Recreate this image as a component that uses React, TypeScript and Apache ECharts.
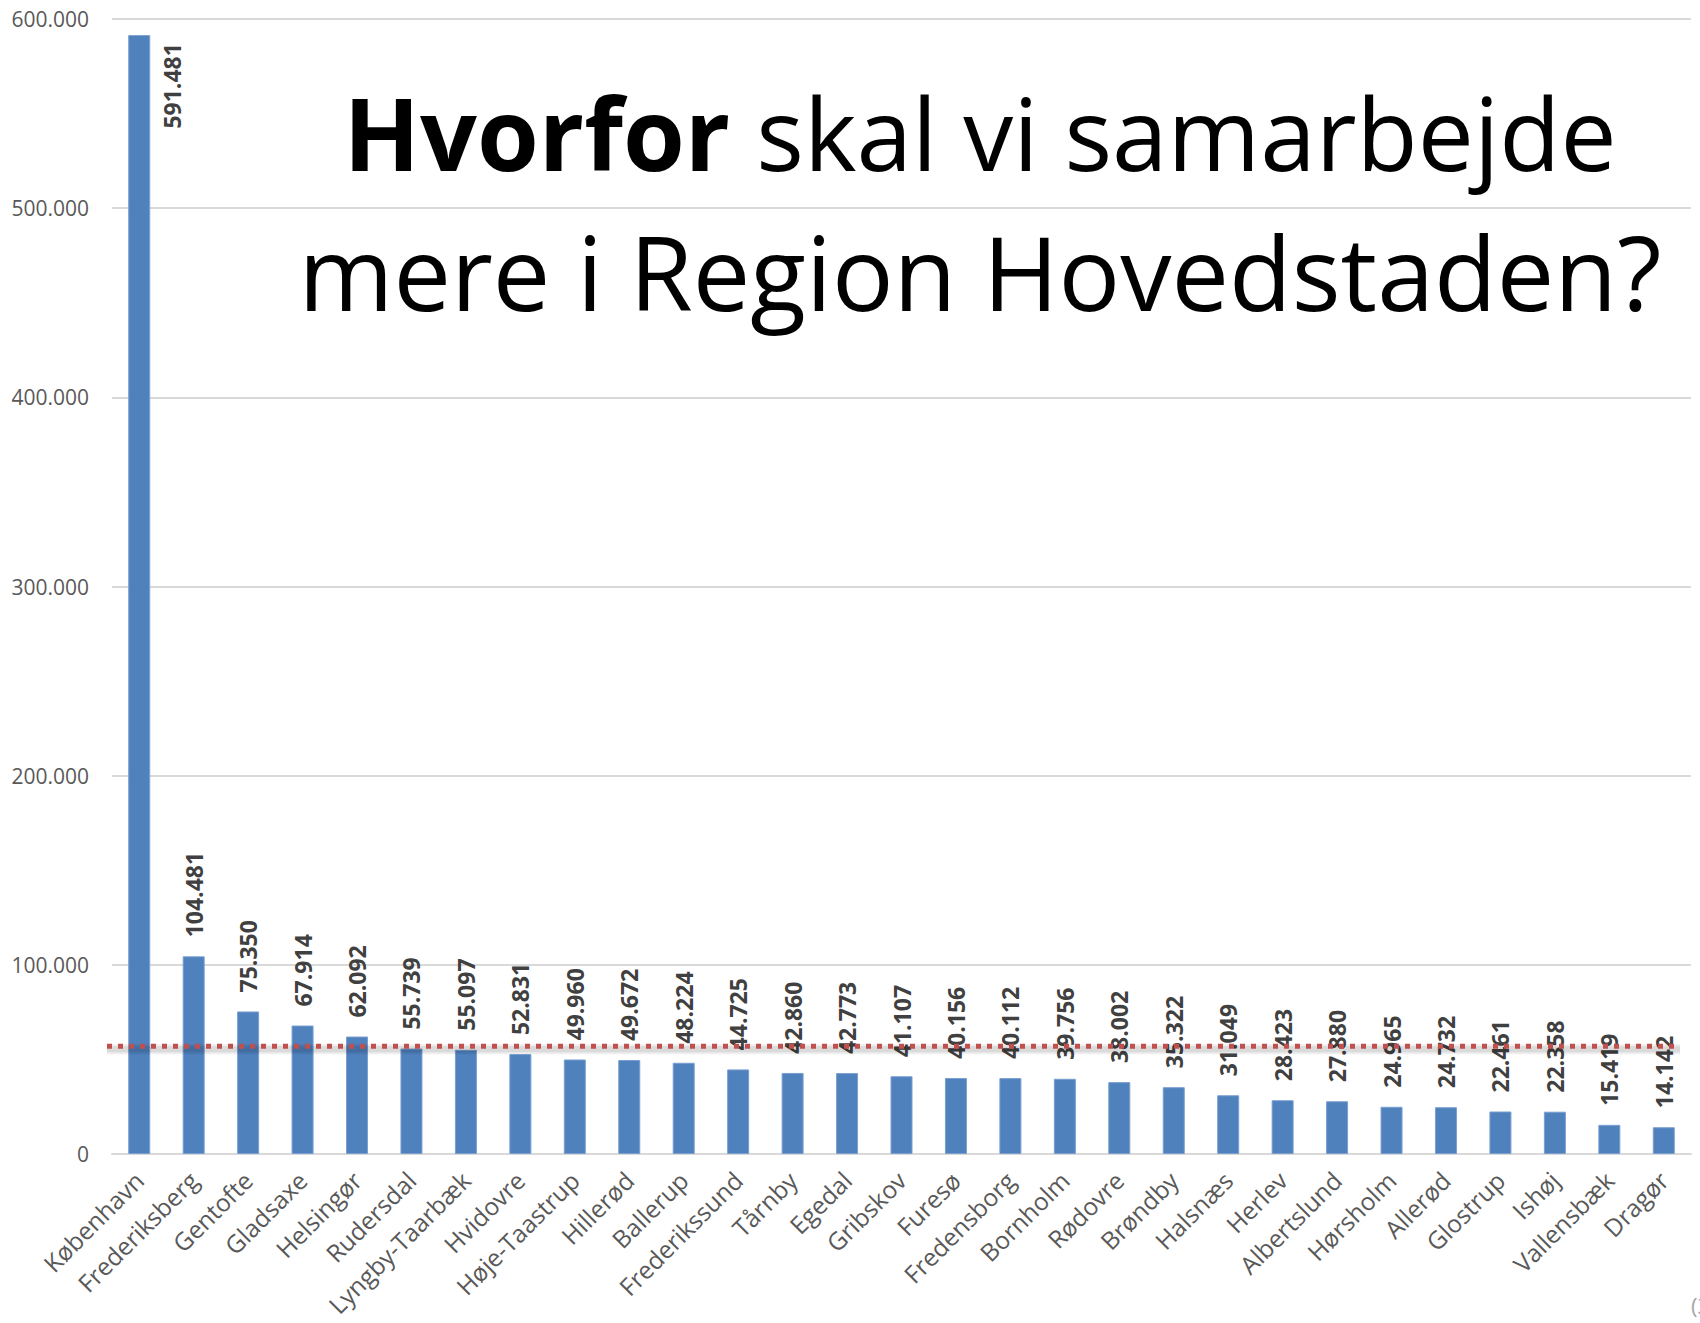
import React, { useEffect, useRef } from "react";
import * as echarts from "echarts";

const categories = [
  "København", "Frederiksberg", "Gentofte", "Gladsaxe", "Helsingør", "Rudersdal",
  "Lyngby-Taarbæk", "Hvidovre", "Høje-Taastrup", "Hillerød", "Ballerup", "Frederikssund",
  "Tårnby", "Egedal", "Gribskov", "Furesø", "Fredensborg", "Bornholm", "Rødovre",
  "Brøndby", "Halsnæs", "Herlev", "Albertslund", "Hørsholm", "Allerød", "Glostrup",
  "Ishøj", "Vallensbæk", "Dragør",
];

const population = [
  591481, 104481, 75350, 67914, 62092, 55739, 55097, 52831, 49960, 49672, 48224, 44725,
  42860, 42773, 41107, 40156, 40112, 39756, 38002, 35322, 31049, 28423, 27880, 24965,
  24732, 22461, 22358, 15419, 14142,
];

const referenceLine = 57000;

const titleLine1 = "{b|Hvorfor} skal vi samarbejde";
const titleLine2 = "mere i Region Hovedstaden?";
const pageMark = "(3)";

const fmt = (v: number) => String(v).replace(/\B(?=(\d{3})+(?!\d))/g, ".");

export default function App() {
  const ref = useRef<HTMLDivElement>(null);
  useEffect(() => {
    if (!ref.current) return;
    const chart = echarts.init(ref.current, null, { renderer: "svg" });
    const font = "'Open Sans', sans-serif";
    const labelBase = {
      show: true,
      position: "top",
      distance: 19,
      rotate: 90,
      align: "left",
      verticalAlign: "middle",
      fontFamily: font,
      fontWeight: "bold",
      fontSize: 23,
      color: "#404040",
      formatter: (p: any) => fmt(p.value),
    };
    const data = population.map((v, i) =>
      i === 0
        ? { value: v, label: { ...labelBase, position: [44, 8], align: "right" } }
        : { value: v }
    );
    chart.setOption({
      animation: false,
      backgroundColor: "#ffffff",
      grid: { left: 112, right: 9, top: 19, bottom: 169, containLabel: false },
      xAxis: {
        type: "category",
        data: categories,
        axisLine: { lineStyle: { color: "#d9d9d9", width: 2 } },
        axisTick: { show: false },
        axisLabel: {
          rotate: 45,
          interval: 0,
          margin: 22,
          fontFamily: font,
          fontSize: 24.5,
          color: "#595959",
        },
      },
      yAxis: {
        type: "value",
        min: 0,
        max: 600000,
        interval: 100000,
        axisLine: { show: false },
        axisTick: { show: false },
        splitLine: { lineStyle: { color: "#d9d9d9", width: 2 } },
        axisLabel: {
          margin: 23,
          fontFamily: font,
          fontSize: 21,
          color: "#595959",
          formatter: (v: number) => fmt(v),
        },
      },
      series: [
        {
          type: "bar",
          data,
          barWidth: 22,
          itemStyle: { color: "#4f81bd", borderColor: "#7a9fd0", borderWidth: 1 },
          label: labelBase,
        },
      ],
      graphic: [
        {
          id: "t1",
          type: "text",
          x: 980,
          y: 132,
          style: {
            text: titleLine1,
            fontFamily: font,
            fontSize: 100,
            fill: "#000000",
            align: "center",
            verticalAlign: "middle",
            rich: { b: { fontWeight: "bold", fontFamily: font, fontSize: 100, fill: "#000000" } },
          },
        },
        {
          id: "t2",
          type: "text",
          x: 980,
          y: 271,
          style: {
            text: titleLine2,
            fontFamily: font,
            fontSize: 102.5,
            fill: "#000000",
            align: "center",
            verticalAlign: "middle",
          },
        },
        {
          id: "pm",
          type: "text",
          x: 1691,
          y: 1305,
          style: {
            text: pageMark,
            fontFamily: font,
            fontSize: 22,
            fill: "#a6a6a6",
            align: "left",
            verticalAlign: "middle",
          },
        },
      ],
    });
    const yLine = Number(chart.convertToPixel({ yAxisIndex: 0 }, referenceLine));
    chart.setOption({
      graphic: [
        {
          id: "reflineShadow1",
          type: "line",
          z: 10,
          shape: { x1: 107, y1: yLine + 3, x2: 1680, y2: yLine + 3 },
          style: { stroke: "rgba(0,0,0,0.07)", lineWidth: 10 },
        },
        {
          id: "reflineShadow2",
          type: "line",
          z: 10,
          shape: { x1: 107, y1: yLine + 3, x2: 1680, y2: yLine + 3 },
          style: { stroke: "rgba(0,0,0,0.08)", lineWidth: 6 },
        },
        {
          id: "refline",
          type: "line",
          z: 11,
          shape: { x1: 107, y1: yLine, x2: 1680, y2: yLine },
          style: { stroke: "#c0504d", lineWidth: 5, lineDash: [5, 6] },
        },
      ],
    });
    return () => chart.dispose();
  }, []);
  return (
    <div
      ref={ref}
      style={{ position: "absolute", left: 0, top: 0, width: 1700, height: 1323 }}
    />
  );
}
